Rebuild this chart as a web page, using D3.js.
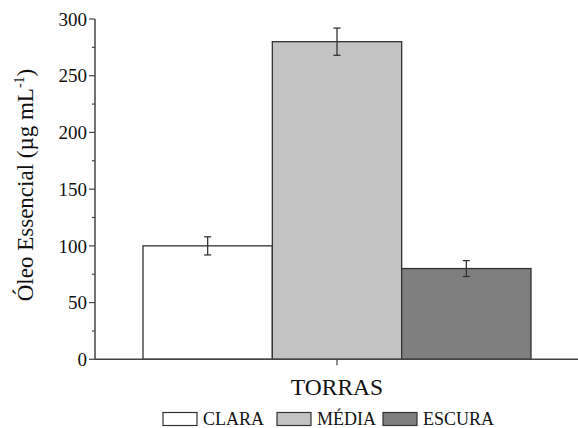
<!DOCTYPE html>
<html><head><meta charset="utf-8">
<script src="https://cdn.jsdelivr.net/npm/d3@7"></script>
<style>body{margin:0;background:#fff}svg{display:block}</style>
</head><body><div id="c"></div>
<script>
const categories = ["CLARA", "MÉDIA", "ESCURA"];
const values = [100, 280, 80];
const errors = [8, 12, 7];
const colors = ["#ffffff", "#c3c3c3", "#7f7f7f"];
const yTicks = [0, 50, 100, 150, 200, 250, 300];
const xTitle = "TORRAS";

const W = 578, H = 428;
const FONT = "Liberation Serif";
const svg = d3.select("#c").append("svg").attr("width", W).attr("height", H);
const x0 = 95, x1 = 578.5;
const y = d3.scaleLinear().domain([0, 300]).range([359.3, 19]);
const x = d3.scaleBand().domain(categories).range([143, 531]).paddingInner(0);

const axCol = "#444";
// y axis
const gy = svg.append("g").attr("transform", `translate(${x0},0)`);
gy.append("line").attr("x1",0).attr("x2",0).attr("y1",y(0)).attr("y2",y(300)).attr("stroke",axCol).attr("stroke-width",1.5);
const minor = d3.range(25, 300, 50);
gy.selectAll(".mn").data(minor).join("line").attr("x1",-3).attr("x2",0).attr("y1",d=>y(d)).attr("y2",d=>y(d)).attr("stroke",axCol).attr("stroke-width",1.2);
gy.selectAll(".mj").data(yTicks).join("line").attr("x1",-6).attr("x2",0).attr("y1",d=>y(d)).attr("y2",d=>y(d)).attr("stroke",axCol).attr("stroke-width",1.2);
gy.selectAll(".lb").data(yTicks).join("text").attr("x",-8).attr("y",d=>y(d)).attr("dy","0.35em").attr("text-anchor","end")
  .style("font-family",FONT).style("font-size","19px").attr("fill","#111").text(d=>d);

// bars
svg.selectAll(".bar").data(categories).join("rect")
  .attr("x", d=>x(d)).attr("width", x.bandwidth())
  .attr("y", (d,i)=>y(values[i])).attr("height", (d,i)=>y(0)-y(values[i]))
  .attr("fill", (d,i)=>colors[i]).attr("stroke", "#333").attr("stroke-width", 1.3);

// error bars
const eb = svg.selectAll(".eb").data(categories).join("g").attr("stroke","#333").attr("stroke-width",1.3);
eb.append("line").attr("x1",d=>x(d)+x.bandwidth()/2).attr("x2",d=>x(d)+x.bandwidth()/2)
  .attr("y1",(d,i)=>y(values[i]-errors[i])).attr("y2",(d,i)=>y(values[i]+errors[i]));
[1,-1].forEach(s=>{
  eb.append("line").attr("x1",d=>x(d)+x.bandwidth()/2-3.5).attr("x2",d=>x(d)+x.bandwidth()/2+3.5)
    .attr("y1",(d,i)=>y(values[i]+s*errors[i])).attr("y2",(d,i)=>y(values[i]+s*errors[i]));
});

// x axis
svg.append("line").attr("x1",x0).attr("x2",x1).attr("y1",y(0)).attr("y2",y(0)).attr("stroke",axCol).attr("stroke-width",1.5);
const xc = x(categories[1]) + x.bandwidth()/2;
svg.append("line").attr("x1",xc).attr("x2",xc).attr("y1",y(0)).attr("y2",y(0)+6).attr("stroke",axCol).attr("stroke-width",1.2);

svg.append("text").attr("x", xc).attr("y", 395).attr("text-anchor","middle")
  .style("font-family",FONT).style("font-size","23.5px").attr("fill","#111").text(xTitle);

// y title
const yt = svg.append("text").attr("transform","translate(33,185) rotate(-90)").attr("text-anchor","middle")
  .style("font-family",FONT).style("font-size","23px").attr("fill","#111");
yt.append("tspan").text("Óleo Essencial (µg mL");
yt.append("tspan").attr("dy",-9).style("font-size","14px").text("-1");
yt.append("tspan").attr("dy",9).text(")");

// legend
const legX = [163, 277, 383];
const lg = svg.selectAll(".lg").data(categories).join("g").attr("transform",(d,i)=>`translate(${legX[i]},412.5)`);
lg.append("rect").attr("width",34).attr("height",13).attr("fill",(d,i)=>colors[i]).attr("stroke","#333").attr("stroke-width",1.2);
lg.append("text").attr("x",40).attr("y",12.5).style("font-family",FONT).style("font-size","18px").attr("fill","#111").text(d=>d);
</script></body></html>
